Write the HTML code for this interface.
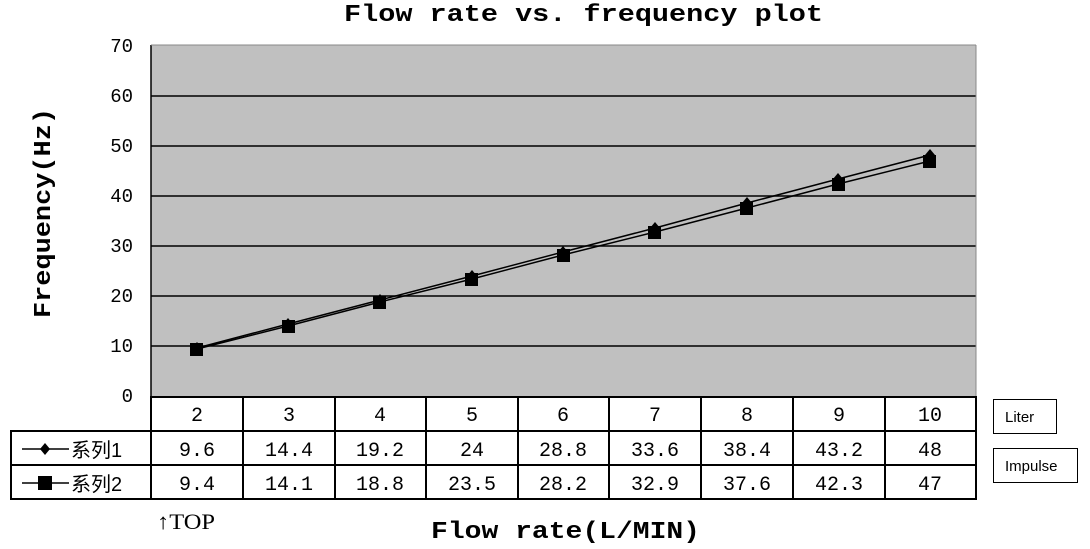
<!DOCTYPE html>
<html><head><meta charset="utf-8"><style>
body{margin:0;background:#fff;}
svg{display:block}
.m{font-family:"Liberation Mono","Noto Sans CJK SC",monospace;}
</style></head><body>
<svg width="1090" height="549" xmlns="http://www.w3.org/2000/svg">
<rect x="151" y="45" width="825" height="351" fill="#c0c0c0"/>
<g stroke="#000" stroke-width="1.5">
<line x1="151" y1="96" x2="976" y2="96"/><line x1="151" y1="146" x2="976" y2="146"/>
<line x1="151" y1="196" x2="976" y2="196"/><line x1="151" y1="246" x2="976" y2="246"/>
<line x1="151" y1="296" x2="976" y2="296"/><line x1="151" y1="346" x2="976" y2="346"/>
<line x1="151" y1="45" x2="151" y2="499"/>
</g>
<line x1="151" y1="45" x2="976" y2="45" stroke="#888"/>
<line x1="976" y1="45" x2="976" y2="396" stroke="#888"/>
<g class="m" font-size="19" text-anchor="end" fill="#000">
<text x="133" y="52">70</text><text x="133" y="102">60</text><text x="133" y="152">50</text>
<text x="133" y="202">40</text><text x="133" y="252">30</text><text x="133" y="302">20</text>
<text x="133" y="352">10</text><text x="133" y="402">0</text>
</g>
<text x="344" y="21" class="m" font-size="24" font-weight="bold" textLength="479" lengthAdjust="spacingAndGlyphs">Flow rate vs. frequency plot</text>
<text transform="translate(50,318) rotate(-90)" class="m" font-size="24" font-weight="bold" textLength="210" lengthAdjust="spacingAndGlyphs">Frequency(Hz)</text>
<text x="431" y="538" class="m" font-size="24" font-weight="bold" textLength="269" lengthAdjust="spacingAndGlyphs">Flow rate(L/MIN)</text>
<polyline fill="none" stroke="#000" stroke-width="1.5" points="197,348 288,324 380,300 472,276 563,252 655,228 747,203 838,179 930,155"/>
<polyline fill="none" stroke="#000" stroke-width="1.5" points="197,349 288,326 380,302 472,279 563,255 655,232 747,208 838,184 930,161"/>
<g fill="#000">
<rect x="190" y="343" width="13" height="13"/><rect x="282" y="320" width="13" height="13"/>
<rect x="373" y="296" width="13" height="13"/><rect x="465" y="273" width="13" height="13"/>
<rect x="557" y="249" width="13" height="13"/><rect x="648" y="226" width="13" height="13"/>
<rect x="740" y="202" width="13" height="13"/><rect x="832" y="178" width="13" height="13"/>
<rect x="923" y="155" width="13" height="13"/>
</g>
<g fill="#000">
<path d="M197,342l5,6l-5,6l-5,-6z"/><path d="M288,318l5,6l-5,6l-5,-6z"/><path d="M380,294l5,6l-5,6l-5,-6z"/>
<path d="M472,270l5,6l-5,6l-5,-6z"/><path d="M563,246l5,6l-5,6l-5,-6z"/><path d="M655,222l5,6l-5,6l-5,-6z"/>
<path d="M747,197l5,6l-5,6l-5,-6z"/><path d="M838,173l5,6l-5,6l-5,-6z"/><path d="M930,149l5,6l-5,6l-5,-6z"/>
</g>
<g stroke="#000" stroke-width="2" fill="none">
<rect x="151" y="397" width="825" height="102"/>
<rect x="11" y="431" width="140" height="68"/>
<line x1="11" y1="465" x2="976" y2="465"/><line x1="151" y1="431" x2="976" y2="431"/>
<line x1="243" y1="397" x2="243" y2="499"/><line x1="335" y1="397" x2="335" y2="499"/>
<line x1="426" y1="397" x2="426" y2="499"/><line x1="518" y1="397" x2="518" y2="499"/>
<line x1="609" y1="397" x2="609" y2="499"/><line x1="701" y1="397" x2="701" y2="499"/>
<line x1="793" y1="397" x2="793" y2="499"/><line x1="885" y1="397" x2="885" y2="499"/>
</g>
<g class="m" font-size="20" text-anchor="middle">
<text x="197" y="421">2</text><text x="289" y="421">3</text><text x="380" y="421">4</text><text x="472" y="421">5</text><text x="563" y="421">6</text><text x="655" y="421">7</text><text x="747" y="421">8</text><text x="839" y="421">9</text><text x="930" y="421">10</text>
<text x="197" y="456">9.6</text><text x="289" y="456">14.4</text><text x="380" y="456">19.2</text><text x="472" y="456">24</text><text x="563" y="456">28.8</text><text x="655" y="456">33.6</text><text x="747" y="456">38.4</text><text x="839" y="456">43.2</text><text x="930" y="456">48</text>
<text x="197" y="490">9.4</text><text x="289" y="490">14.1</text><text x="380" y="490">18.8</text><text x="472" y="490">23.5</text><text x="563" y="490">28.2</text><text x="655" y="490">32.9</text><text x="747" y="490">37.6</text><text x="839" y="490">42.3</text><text x="930" y="490">47</text>
</g>
<line x1="22" y1="449" x2="69" y2="449" stroke="#000" stroke-width="1.5"/>
<path d="M45,443l5,6l-5,6l-5,-6z" fill="#000"/>
<line x1="22" y1="483" x2="69" y2="483" stroke="#000" stroke-width="1.5"/>
<rect x="38" y="476" width="14" height="14" fill="#000"/>
<g font-family="Liberation Sans,'Noto Sans CJK SC',sans-serif" font-size="20">
<text x="71" y="457">系列1</text><text x="71" y="491">系列2</text>
</g>
<text x="157" y="529" font-family="Liberation Serif,serif" font-size="22" textLength="58" lengthAdjust="spacingAndGlyphs">↑TOP</text>
<rect x="993.5" y="399.5" width="63" height="34" fill="#fff" stroke="#000"/>
<text x="1005" y="422" font-family="Liberation Sans,sans-serif" font-size="15">Liter</text>
<rect x="993.5" y="448.5" width="84" height="34" fill="#fff" stroke="#000"/>
<text x="1005" y="471" font-family="Liberation Sans,sans-serif" font-size="15">Impulse</text>
</svg>
</body></html>
